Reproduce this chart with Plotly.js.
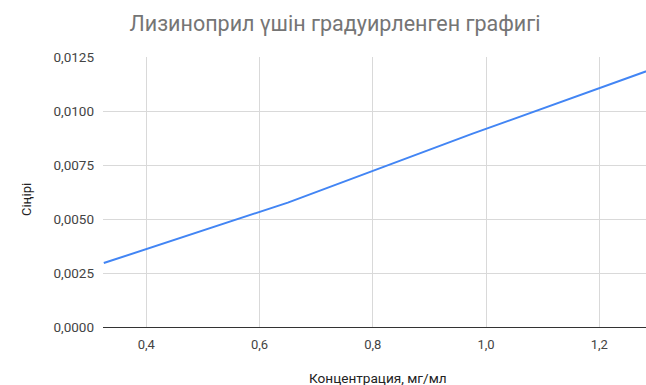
<!DOCTYPE html>
<html>
<head>
<meta charset="utf-8">
<script src="https://cdn.plot.ly/plotly-3.0.1.min.js"></script>
<style>html,body{margin:0;padding:0;background:#fff;}#chart{width:646px;height:385px;}</style>
</head>
<body>
<div id="chart"></div>
<script>
// Data
const concentration = [0.325, 0.65, 0.975, 1.3];
const absorbance = [0.00296, 0.00576, 0.00894, 0.0120];
const xTicks = [0.4, 0.6, 0.8, 1.0, 1.2];
const xTickLabels = ["0,4", "0,6", "0,8", "1,0", "1,2"];
const yTicks = [0, 0.0025, 0.005, 0.0075, 0.01, 0.0125];
const yTickLabels = ["0,0000", "0,0025", "0,0050", "0,0075", "0,0100", "0,0125"];
const chartTitle = "Лизиноприл үшін градуирленген графигі";
const xTitle = "Концентрация, мг/мл";
const yTitle = "Сіңірі";

const trace = {
  x: concentration,
  y: absorbance,
  type: "scatter",
  mode: "lines",
  line: {color: "#4285F4", width: 2},
  hoverinfo: "none"
};

const layout = {
  width: 646,
  height: 385,
  margin: {l: 103, r: 0, t: 57, b: 58},
  paper_bgcolor: "#fff",
  plot_bgcolor: "#fff",
  font: {family: "Roboto, Arial, sans-serif", color: "#444", size: 13},
  showlegend: false,
  title: {
    text: chartTitle,
    font: {family: "Roboto, Arial, sans-serif", size: 21.5, color: "#757575"},
    x: 335 / 646,
    xanchor: "center",
    xref: "container",
    yref: "container",
    y: 1 - 23 / 385,
    yanchor: "middle"
  },
  xaxis: {
    range: [0.3236, 1.2824],
    tickvals: xTicks,
    ticktext: xTickLabels,
    showgrid: true,
    gridcolor: "#d9d9d9",
    gridwidth: 1,
    zeroline: false,
    showline: false,
    ticks: "",
    ticklabelstandoff: 8,
    tickfont: {size: 13, color: "#444"},
    fixedrange: true
  },
  yaxis: {
    range: [0, 0.0125],
    tickvals: yTicks,
    ticktext: yTickLabels,
    showgrid: true,
    gridcolor: "#d9d9d9",
    gridwidth: 1,
    zeroline: true,
    zerolinecolor: "#333",
    zerolinewidth: 1,
    showline: false,
    ticks: "",
    ticklabelstandoff: 8,
    tickfont: {size: 13.5, color: "#444"},
    fixedrange: true
  },
  annotations: [
    {
      text: xTitle,
      xref: "paper", yref: "paper",
      x: (378 - 103) / 543, y: -(378 - 327) / 270,
      xanchor: "center", yanchor: "middle",
      showarrow: false,
      font: {size: 13.6, color: "#222"}
    },
    {
      text: yTitle,
      xref: "paper", yref: "paper",
      x: (26 - 103) / 543, y: (327 - 200) / 270,
      xanchor: "center", yanchor: "middle",
      textangle: -90,
      showarrow: false,
      font: {size: 13, color: "#222"}
    }
  ]
};

Plotly.newPlot("chart", [trace], layout, {displayModeBar: false, staticPlot: true});
</script>
</body>
</html>
